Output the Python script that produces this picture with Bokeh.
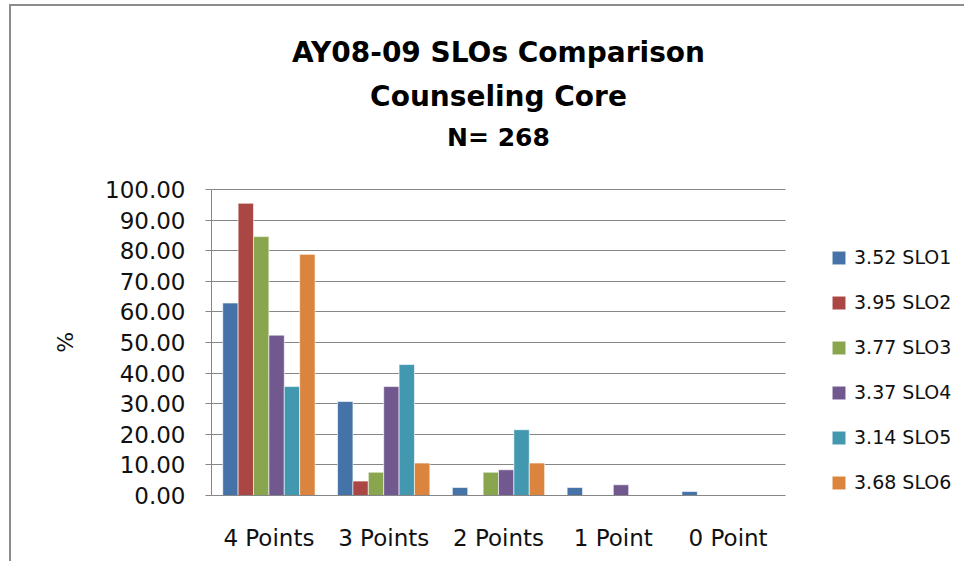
from bokeh.plotting import figure
from bokeh.models import (ColumnDataSource, Range1d, FixedTicker, NumeralTickFormatter, Label,
                          Legend, LegendItem)
from bokeh.transform import dodge
from bokeh.embed import file_html
from bokeh.resources import INLINE

categories = ["4 Points", "3 Points", "2 Points", "1 Point", "0 Point"]
series_names = ["3.52 SLO1", "3.95 SLO2", "3.77 SLO3", "3.37 SLO4", "3.14 SLO5", "3.68 SLO6"]
slo1 = [62.9, 30.7, 2.6, 2.6, 1.3]
slo2 = [95.5, 4.7, 0.0, 0.0, 0.0]
slo3 = [84.6, 7.6, 7.6, 0.0, 0.0]
slo4 = [52.4, 35.6, 8.4, 3.5, 0.0]
slo5 = [35.6, 42.8, 21.5, 0.0, 0.0]
slo6 = [78.8, 10.6, 10.6, 0.0, 0.0]
y_ticks = [0, 10, 20, 30, 40, 50, 60, 70, 80, 90, 100]
title_lines = ["AY08-09 SLOs Comparison", "Counseling Core", "N= 268"]
y_label = "%"

colors = ["#4572A7", "#AA4643", "#89A54E", "#71588F", "#4198AF", "#DB843D"]
FONT = "DejaVu Sans"

n_cat = len(categories)
xpos = [i + 0.5 for i in range(n_cat)]          # centre of each category slot
y_max = y_ticks[-1]

source = ColumnDataSource(dict(x=xpos, s1=slo1, s2=slo2, s3=slo3, s4=slo4, s5=slo5, s6=slo6))

# plot area: x 211..785 px for the 5 categories, y 189..495 px for 0..100;
# the frame is extended right/up so legend and titles live inside it.
W, H = 964, 561
left_px, right_px, top_px, bottom_px = 211, 785, 189, 495
x_end = n_cat * (W - left_px) / (right_px - left_px)
y_end = y_max * bottom_px / (bottom_px - top_px)

p = figure(width=W, height=H, x_range=Range1d(0, x_end), y_range=Range1d(0, y_end),
           output_backend="svg", toolbar_location=None,
           min_border_left=left_px, min_border_right=0, min_border_top=0,
           min_border_bottom=H - bottom_px)
p.border_fill_alpha = 0
p.background_fill_alpha = 0
p.styles = {"background": "linear-gradient(#8c8c8c,#8c8c8c) 9px 4px / 2px 100% no-repeat, "
                          "linear-gradient(#8c8c8c,#8c8c8c) 9px 4px / 100% 2px no-repeat, white"}
p.outline_line_color = None

bw = 0.134
items = []
for i, col in enumerate(["s1", "s2", "s3", "s4", "s5", "s6"]):
    r = p.vbar(x=dodge("x", (i - 2.5) * bw), top=col, width=bw,
               source=source, fill_color=colors[i], line_color="white", line_width=0.6)
    items.append(LegendItem(label=series_names[i], renderers=[r]))

legend = Legend(items=items, location=(619, 2), orientation="vertical",
                glyph_width=17, glyph_height=17, label_height=22, spacing=23,
                label_standoff=7, padding=0, margin=0, border_line_color=None,
                background_fill_alpha=0, label_text_font=FONT, label_text_font_size="19px",
                label_text_color="#111111")
p.add_layout(legend, "center")

# y axis
p.yaxis.bounds = (0, y_max)
p.yaxis.ticker = FixedTicker(ticks=y_ticks)
p.yaxis.formatter = NumeralTickFormatter(format="0.00")
p.yaxis.major_label_text_font = FONT
p.yaxis.major_label_text_font_size = "23px"
p.yaxis.major_label_text_color = "#111111"
p.yaxis.axis_line_color = "#868686"
p.yaxis.major_tick_line_color = "#868686"
p.yaxis.major_tick_out = 6
p.yaxis.major_tick_in = 0
p.yaxis.minor_tick_line_color = None
p.yaxis.major_label_standoff = 20
# the axis label is centred on the whole (extended) frame; trailing no-break
# spaces move the visible glyph down to the middle of the 0..100 axis
p.yaxis.axis_label = y_label + "\u00a0" * 27
p.yaxis.axis_label_text_font = FONT
p.yaxis.axis_label_text_font_style = "normal"
p.yaxis.axis_label_text_font_size = "22px"
p.yaxis.axis_label_text_color = "#111111"
p.yaxis.axis_label_standoff = 24

# x axis (categories)
p.xaxis.bounds = (0, n_cat)
p.xaxis.ticker = FixedTicker(ticks=xpos)
p.xaxis.major_label_overrides = {x: c for x, c in zip(xpos, categories)}
p.xaxis.major_label_text_font = FONT
p.xaxis.major_label_text_font_size = "23px"
p.xaxis.major_label_text_color = "#111111"
p.xaxis.axis_line_color = "#868686"
p.xaxis.major_tick_line_color = None
p.xaxis.minor_tick_line_color = None
p.xaxis.major_label_standoff = 23

p.xgrid.grid_line_color = None
grid = p.ygrid[0]
if "cross_bounds" in grid.properties():
    grid.ticker = FixedTicker(ticks=y_ticks)
    grid.grid_line_color = "#868686"
    grid.cross_bounds = (0, n_cat)
else:
    grid.grid_line_color = None
    p.segment(x0=[0] * len(y_ticks), x1=[n_cat] * len(y_ticks), y0=y_ticks, y1=y_ticks,
              line_color="#868686", line_width=1, level="underlay")

# titles
cx = n_cat / 2
for txt, yv, size in [(title_lines[0], 144.8, "28px"), (title_lines[1], 130.4, "28px"),
                      (title_lines[2], 117.0, "25px")]:
    p.add_layout(Label(x=cx, y=yv, text=txt, text_align="center", text_baseline="alphabetic",
                       text_font=FONT, text_font_style="bold", text_font_size=size,
                       text_color="#000000"))

open("out.html", "w").write(file_html(p, INLINE))
